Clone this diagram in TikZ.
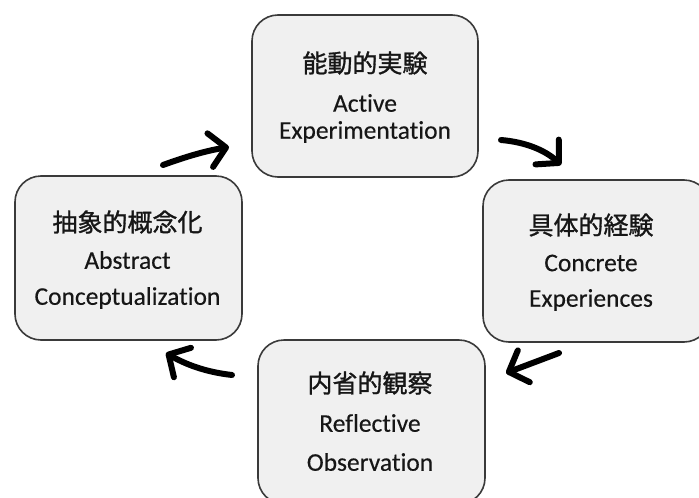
\documentclass[tikz,border=0pt]{standalone}
\usepackage{fontspec}
\setmainfont[Ligatures=NoCommon,FakeBold=0.3]{Carlito}
\newfontfamily\cjk[FakeBold=1.2]{Noto Sans CJK JP}
\usetikzlibrary{arrows.meta}
\definecolor{boxfill}{HTML}{F0F0F0}
\definecolor{boxline}{HTML}{3A3A3A}
\definecolor{txt}{HTML}{161616}
\begin{document}
\begin{tikzpicture}[x=1pt,y=-1pt,
  stagebox/.style={draw=boxline,fill=boxfill,line width=1.6pt,rounded corners=26pt,minimum width=#1,inner sep=0pt},
  jp/.style={font=\cjk\fontsize{25}{25}\selectfont,text=txt,inner sep=0pt},
  en/.style={font=\fontsize{25.5}{25.5}\selectfont,text=txt,inner sep=0pt},
  cyc/.style={line width=6pt,line cap=round,-{Straight Barb[length=16pt,width=34pt,line cap=round,line join=round]}}]
\useasboundingbox (0,0) rectangle (699,498);
% boxes
\node[stagebox=226pt,minimum height=162pt] (top) at (365,96) {};
\node[stagebox=227pt,minimum height=164pt] (left) at (128.5,258) {};
\node[stagebox=227pt,minimum height=162pt] (right) at (596.5,261) {};
\node[stagebox=227pt,minimum height=164pt] (bottom) at (371.5,422) {};
% texts
\node[jp] (t1) at (365,63) {能動的実験};
\node[en] (t2) at (365,103) {Active};
\node[en] (t3) at (365,132) {Experimentation};
\node[jp] (l1) at (127.5,222) {抽象的概念化};
\node[en] (l2) at (127.5,260) {Abstract};
\node[en] (l3) at (127.5,298) {Conceptualization};
\node[jp] (r1) at (591,225) {具体的経験};
\node[en] (r2) at (591,263) {Concrete};
\node[en] (r3) at (591,300) {Experiences};
\node[jp] (b1) at (370,383) {内省的観察};
\node[en] (b2) at (370,423) {Reflective};
\node[en] (b3) at (370,462) {Observation};
% arrows
\coordinate (a1s) at (163,165); \coordinate (a1e) at (229,147);
\coordinate (a2s) at (501,140); \coordinate (a2e) at (561,165);
\coordinate (a3s) at (559,353); \coordinate (a3e) at (506,373);
\coordinate (a4s) at (232,375); \coordinate (a4e) at (166,353);
\draw[cyc] (a1s) .. controls (185,157) and (205,151) .. (a1e);
\draw[cyc] (a2s) .. controls (525,142) and (545,150) .. (a2e);
\draw[cyc] (a3s) -- (a3e);
\draw[cyc] (a4s) .. controls (205,372) and (185,364) .. (a4e);
\end{tikzpicture}
\end{document}
